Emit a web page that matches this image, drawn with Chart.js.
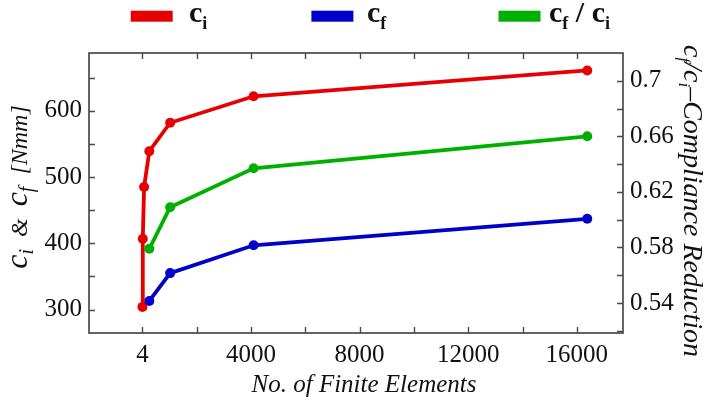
<!DOCTYPE html>
<html>
<head>
<meta charset="utf-8">
<script src="https://cdn.jsdelivr.net/npm/chart.js@4.4.1/dist/chart.umd.min.js"></script>
<style>
  html, body { margin: 0; padding: 0; background: #fff; }
</style>
</head>
<body>
<canvas id="chart" width="712" height="402"></canvas>
<script>
// number of finite elements and compliance values
const elements = [4, 16, 64, 256, 1024, 4096, 16384];
const ciValues = [304, 407, 485, 539, 582, 622, 661];
const cfElements = [256, 1024, 4096, 16384];
const cfValues = [313, 355, 397, 437];
const ratioValues = [0.579, 0.609, 0.637, 0.660];

// ticks (every tick gets a mark, only some get a label)
const xTicks = [4, 2000, 4000, 6000, 8000, 10000, 12000, 14000, 16000];
const xLabels = ['4', '', '4000', '', '8000', '', '12000', '', '16000'];
const leftTicks = [300, 350, 400, 450, 500, 550, 600, 650];
const leftLabels = ['300', '', '400', '', '500', '', '600', ''];
const rightTicks = [0.52, 0.54, 0.56, 0.58, 0.60, 0.62, 0.64, 0.66, 0.68, 0.70];
const rightLabels = ['', '0.54', '', '0.58', '', '0.62', '', '0.66', '', '0.7'];

const RED = '#e60000';
const BLUE = '#0000c8';
const GREEN = '#00b000';
const SERIF = "'Liberation Serif', 'DejaVu Serif', serif";

function points(xs, ys) {
  return xs.map((x, i) => ({ x: x, y: ys[i] }));
}

function setTicks(values) {
  return function(scale) {
    scale.ticks = values.map(v => ({ value: v }));
  };
}

function richWidth(ctx, parts) {
  let w = 0;
  parts.forEach(p => { ctx.font = p.font; w += ctx.measureText(p.t).width; });
  return w;
}

function drawRich(ctx, parts, x, y) {
  parts.forEach(p => {
    ctx.font = p.font;
    ctx.fillText(p.t, x, y + (p.dy || 0));
    x += ctx.measureText(p.t).width;
  });
}

const framePlugin = {
  id: 'frame',
  beforeDatasetsDraw(chart) {
    const ctx = chart.ctx;
    const a = chart.chartArea;
    const len = 6;
    ctx.save();
    ctx.strokeStyle = '#4a4a4a';
    ctx.lineWidth = 1.4;
    ctx.beginPath();
    chart.scales.x.ticks.forEach(t => {
      const px = Math.round(chart.scales.x.getPixelForValue(t.value)) + 0.5;
      ctx.moveTo(px, a.bottom); ctx.lineTo(px, a.bottom - len);
      ctx.moveTo(px, a.top); ctx.lineTo(px, a.top + len);
    });
    chart.scales.y.ticks.forEach(t => {
      const py = Math.round(chart.scales.y.getPixelForValue(t.value)) + 0.5;
      ctx.moveTo(a.left, py); ctx.lineTo(a.left + len, py);
    });
    chart.scales.y1.ticks.forEach(t => {
      const py = Math.round(chart.scales.y1.getPixelForValue(t.value)) + 0.5;
      ctx.moveTo(a.right, py); ctx.lineTo(a.right - len, py);
    });
    ctx.stroke();
    ctx.lineWidth = 1.7;
    ctx.strokeRect(a.left, a.top, a.right - a.left, a.bottom - a.top);
    ctx.restore();
  },
  afterDraw(chart) {
    const ctx = chart.ctx;
    ctx.save();
    ctx.fillStyle = '#111';
    ctx.textBaseline = 'alphabetic';
    ctx.textAlign = 'left';

    // legend
    const B = 'bold 30px ' + SERIF;
    const b = 'bold 18px ' + SERIF;
    const legend = [
      { color: RED, box: 130.7, text: 189, parts: [{ t: 'c', font: B }, { t: 'i', font: b, dy: 7 }] },
      { color: BLUE, box: 311.4, text: 367, parts: [{ t: 'c', font: B }, { t: 'f', font: b, dy: 7 }] },
      { color: GREEN, box: 498.5, text: 549, parts: [{ t: 'c', font: B }, { t: 'f', font: b, dy: 7 },
        { t: ' / ', font: B }, { t: 'c', font: B }, { t: 'i', font: b, dy: 7 }] }
    ];
    legend.forEach(item => {
      ctx.fillStyle = item.color;
      ctx.fillRect(item.box, 10.7, 42, 11);
      ctx.fillStyle = '#111';
      drawRich(ctx, item.parts, item.text, 22);
    });

    // x title
    ctx.font = 'italic 25px ' + SERIF;
    ctx.textAlign = 'center';
    ctx.fillText('No. of Finite Elements', 364, 392);
    ctx.textAlign = 'left';

    // left title
    const I = 'italic 32px ' + SERIF;
    const i = 'italic 20px ' + SERIF;
    const M = 'italic 24px ' + SERIF;
    const leftParts = [
      { t: 'c', font: I }, { t: 'i', font: i, dy: 6 },
      { t: '  &  ', font: M },
      { t: 'c', font: I }, { t: 'f', font: i, dy: 6 },
      { t: '  [Nmm]', font: M }
    ];
    ctx.save();
    ctx.translate(27, 187);
    ctx.rotate(-Math.PI / 2);
    drawRich(ctx, leftParts, -richWidth(ctx, leftParts) / 2, 0);
    ctx.restore();

    // right title
    const R = 'italic 28px ' + SERIF;
    const r = 'italic 17px ' + SERIF;
    const rightParts = [
      { t: 'c', font: R }, { t: 'f', font: r, dy: 5 },
      { t: '/', font: R },
      { t: 'c', font: R }, { t: 'i', font: r, dy: 5 },
      { t: '\u2013Compliance Reduction', font: R }
    ];
    ctx.save();
    ctx.translate(684, 201);
    ctx.rotate(Math.PI / 2);
    drawRich(ctx, rightParts, -richWidth(ctx, rightParts) / 2, 0);
    ctx.restore();

    ctx.restore();
  }
};

const tickFont = { family: SERIF, size: 25 };

new Chart(document.getElementById('chart'), {
  type: 'line',
  data: {
    datasets: [
      { label: 'ci', data: points(elements, ciValues), borderColor: RED, backgroundColor: RED, yAxisID: 'y', order: 3 },
      { label: 'cf', data: points(cfElements, cfValues), borderColor: BLUE, backgroundColor: BLUE, yAxisID: 'y', order: 1 },
      { label: 'cf / ci', data: points(cfElements, ratioValues), borderColor: GREEN, backgroundColor: GREEN, yAxisID: 'y1', order: 2 }
    ]
  },
  options: {
    responsive: false,
    animation: false,
    layout: { padding: { top: 53, left: 0, right: 0, bottom: 0 } },
    elements: {
      line: { borderWidth: 3.8, tension: 0 },
      point: { radius: 5, hoverRadius: 5, borderWidth: 0 }
    },
    plugins: { legend: { display: false }, tooltip: { enabled: false } },
    scales: {
      x: {
        type: 'linear', min: -1965, max: 17700,
        afterBuildTicks: setTicks(xTicks),
        afterFit: s => { s.height = 69; },
        grid: { display: false, drawTicks: false },
        border: { display: false },
        ticks: { callback: (v, i) => xLabels[i], font: tickFont, color: '#111', padding: 7, maxRotation: 0, autoSkip: false }
      },
      y: {
        position: 'left', min: 264.6, max: 687.3,
        afterBuildTicks: setTicks(leftTicks),
        afterFit: s => { s.width = 89; },
        grid: { display: false, drawTicks: false },
        border: { display: false },
        ticks: { callback: (v, i) => leftLabels[i], font: tickFont, color: '#111', padding: 7, autoSkip: false }
      },
      y1: {
        position: 'right', min: 0.5184, max: 0.72,
        afterBuildTicks: setTicks(rightTicks),
        afterFit: s => { s.width = 89; },
        grid: { display: false, drawTicks: false },
        border: { display: false },
        ticks: { callback: (v, i) => rightLabels[i], font: tickFont, color: '#111', padding: 7, autoSkip: false }
      }
    }
  },
  plugins: [framePlugin]
});
</script>
</body>
</html>
